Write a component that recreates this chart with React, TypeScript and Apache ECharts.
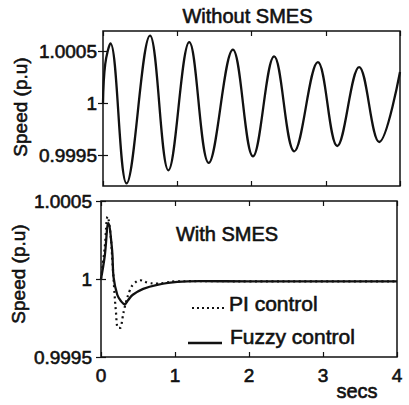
import React, { useEffect, useRef } from "react";
import * as echarts from "echarts";

// ---- Data ----
// Top panel: "Without SMES" (start, then each peak / trough)
const topT = [0, 0.03, 0.1, 0.317, 0.633, 0.881, 1.162, 1.424, 1.749, 2.02, 2.305, 2.576, 2.894, 3.155, 3.45, 3.72, 4.0];
const topV = [1.0, 1.00038, 1.00058, 0.999226, 1.000655, 0.999352, 1.000593, 0.999423, 1.000519, 0.999487, 1.000455, 0.999536, 1.000399, 0.999587, 1.000351, 0.999626, 1.000303];

// Bottom panel: "With SMES"
const fuzzyT = [0, 0.05, 0.1, 0.15, 0.17, 0.22, 0.27, 0.32, 0.365, 0.43, 0.57, 0.76, 1.03, 1.34, 2.0, 3.0, 4.0];
const fuzzyV = [1.0, 1.000146, 1.000358, 1.000185, 1.00001, 0.999899, 0.999858, 0.999838, 0.999864, 0.999899, 0.999937, 0.999963, 0.999982, 0.999986, 0.999985, 0.999985, 0.999985];

const piT = [0, 0.05, 0.09, 0.13, 0.155, 0.18, 0.2, 0.23, 0.26, 0.29, 0.32, 0.39, 0.44, 0.53, 0.64, 0.75, 0.86, 1.0, 1.5, 2.0, 3.0, 4.0];
const piV = [1.0, 1.0002, 1.0004, 1.00028, 1.000108, 0.999928, 0.9998, 0.999687, 0.999687, 0.999749, 0.999819, 0.999928, 0.999967, 0.999992, 0.999975, 0.999971, 0.999975, 0.999985, 0.999986, 0.999985, 0.999985, 0.999985];

const xTicks = [0, 1, 2, 3, 4];
const yTicks = [0.9995, 1, 1.0005];
const topRange = [0.9992, 1.0007];
const bottomRange = [0.9995, 1.0005];

const FONT = "'Liberation Sans', Arial, sans-serif";
const INK = "#111";

export default function App() {
  const ref = useRef<HTMLDivElement>(null);

  useEffect(() => {
    if (!ref.current) return;
    const chart = echarts.init(ref.current, null, { renderer: "svg" });

    const fmt = (v: number) => String(parseFloat(Number(v).toFixed(5)));
    const tickStyle = { inside: true, length: 5, lineStyle: { color: INK, width: 1.2 } };

    const labelBase = {
      fontSize: 19,
      fontFamily: FONT,
      color: INK,
      textBorderColor: INK,
      textBorderWidth: 0.6,
    };

    const xAx = (gridIndex: number, position: string, labels: boolean) => ({
      type: "value",
      gridIndex,
      position,
      min: xTicks[0],
      max: xTicks[xTicks.length - 1],
      interval: 1,
      axisLine: { show: false },
      axisTick: tickStyle,
      splitLine: { show: false },
      axisLabel: { ...labelBase, show: labels, margin: 9 },
    });

    const yAx = (gridIndex: number, position: string, range: number[], labels: boolean, margin: number) => ({
      type: "value",
      gridIndex,
      position,
      min: range[0],
      max: range[1],
      axisLine: { show: false },
      axisTick: { ...tickStyle, customValues: yTicks },
      splitLine: { show: false },
      axisLabel: {
        ...labelBase,
        show: labels,
        customValues: yTicks,
        formatter: fmt,
        margin,
      },
    });

    const gridBase = {
      show: true,
      borderColor: INK,
      borderWidth: 1.5,
      backgroundColor: "transparent",
      containLabel: false,
    };

    const txt = (text: string, x: number, y: number, size: number, align = "center", rotation = 0) => ({
      type: "text",
      x,
      y,
      rotation,
      style: {
        text,
        fill: INK,
        stroke: INK,
        lineWidth: 0.6,
        fontSize: size,
        fontFamily: FONT,
        align,
        verticalAlign: "middle",
      },
    });

    chart.setOption({
      animation: false,
      backgroundColor: "#fff",
      grid: [
        { ...gridBase, left: 103, top: 31, width: 297, height: 155 },
        { ...gridBase, left: 101, top: 201, width: 296, height: 156 },
      ],
      xAxis: [
        xAx(0, "bottom", false),
        xAx(0, "top", false),
        xAx(1, "bottom", true),
        xAx(1, "top", false),
      ],
      yAxis: [
        yAx(0, "left", topRange, true, 6),
        yAx(0, "right", topRange, false, 6),
        yAx(1, "left", bottomRange, true, 9),
        yAx(1, "right", bottomRange, false, 9),
      ],
      series: [
        {
          name: "Without SMES",
          type: "line",
          xAxisIndex: 0,
          yAxisIndex: 0,
          data: topT.map((t, i) => [t, topV[i]]),
          smooth: 0.38,
          showSymbol: false,
          clip: true,
          lineStyle: { color: INK, width: 2.3 },
        },
        {
          name: "PI control",
          type: "line",
          xAxisIndex: 2,
          yAxisIndex: 2,
          data: piT.map((t, i) => [t, piV[i]]),
          smooth: 0.4,
          showSymbol: false,
          clip: true,
          lineStyle: { color: INK, width: 2.2, type: [2, 3.5] },
        },
        {
          name: "Fuzzy control",
          type: "line",
          xAxisIndex: 2,
          yAxisIndex: 2,
          data: fuzzyT.map((t, i) => [t, fuzzyV[i]]),
          smooth: 0.4,
          showSymbol: false,
          clip: true,
          lineStyle: { color: INK, width: 2.3 },
        },
      ],
      graphic: [
        txt("Without SMES", 247.5, 15.5, 20),
        txt("Speed (p.u)", 20, 107, 19, "center", Math.PI / 2),
        txt("Speed (p.u)", 18, 274, 19, "center", Math.PI / 2),
        txt("With SMES", 227, 234, 20),
        {
          type: "line",
          shape: { x1: 192, y1: 308, x2: 225, y2: 308 },
          style: { stroke: INK, lineWidth: 2.2, lineDash: [2, 3] },
        },
        txt("PI control", 229, 303.5, 21, "left"),
        {
          type: "line",
          shape: { x1: 188, y1: 343, x2: 222, y2: 343 },
          style: { stroke: INK, lineWidth: 2.3 },
        },
        txt("Fuzzy control", 230, 336.5, 21, "left"),
        txt("secs", 357, 391, 20),
      ],
    });

    return () => chart.dispose();
  }, []);

  return (
    <div
      ref={ref}
      style={{ position: "absolute", left: 0, top: 0, width: 409, height: 405, background: "#fff" }}
    />
  );
}
